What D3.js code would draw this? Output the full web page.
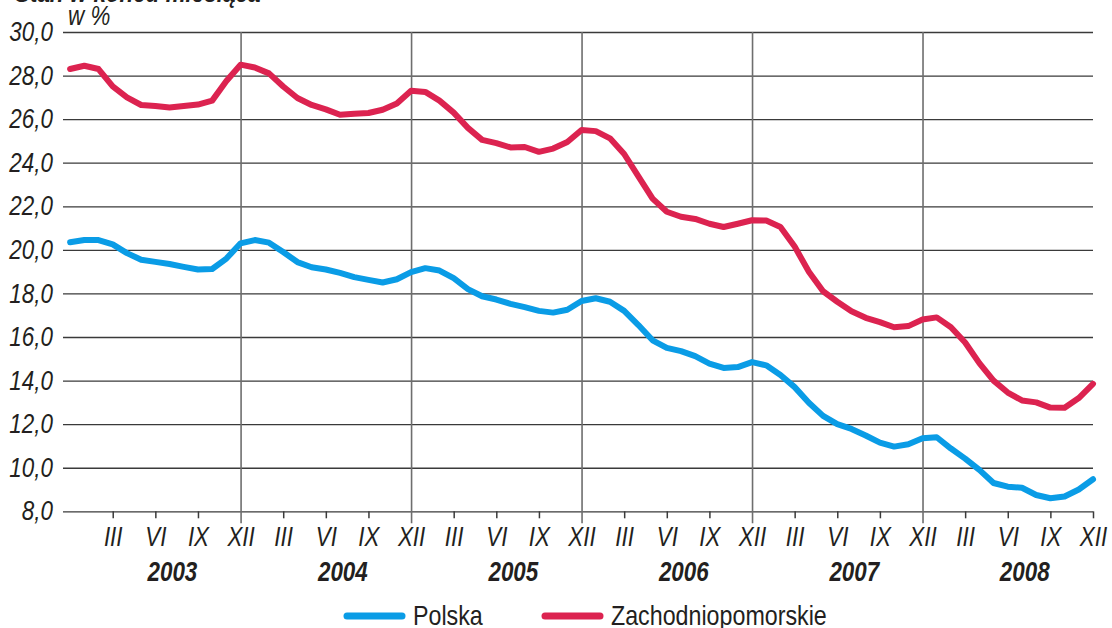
<!DOCTYPE html>
<html>
<head>
<meta charset="utf-8">
<script src="https://cdn.jsdelivr.net/npm/d3@7"></script>
<style>
    body { margin: 0; background: #fff; }
    svg { display: block; font-family: "Liberation Sans Narrow", "Arial Narrow", "Liberation Sans", sans-serif; }
</style>
</head>
<body>
<div id="showBox"></div>
<script>
// index 0 = XII 2002, index 72 = XII 2008
const polska = [
    20.35,
    20.45, 20.45, 20.25, 19.85, 19.55, 19.45, 19.35, 19.22, 19.1, 19.12, 19.6, 20.3,
    20.45, 20.33, 19.9, 19.44, 19.2, 19.1, 18.94, 18.75, 18.62, 18.5, 18.65, 18.98,
    19.16, 19.05, 18.7, 18.2, 17.87, 17.72, 17.52, 17.37, 17.2, 17.12, 17.25, 17.65,
    17.78, 17.62, 17.2, 16.55, 15.85, 15.5, 15.35, 15.12, 14.78, 14.58, 14.62, 14.85,
    14.7, 14.26, 13.7, 12.98, 12.38, 12.0, 11.78, 11.48, 11.15, 10.97, 11.08, 11.35,
    11.4, 10.88, 10.42, 9.9, 9.3, 9.13, 9.08, 8.75, 8.6, 8.68, 9.0, 9.47
];
const zachodniopomorskie = [
    28.3,
    28.45, 28.3, 27.5, 27.0, 26.65, 26.6, 26.53, 26.6, 26.67, 26.85, 27.75, 28.5,
    28.37, 28.1, 27.5, 26.97, 26.65, 26.45, 26.2, 26.25, 26.28, 26.43, 26.72, 27.3,
    27.25, 26.85, 26.3, 25.6, 25.05, 24.9, 24.7, 24.72, 24.5, 24.65, 24.95, 25.5,
    25.45, 25.12, 24.4, 23.37, 22.35, 21.75, 21.52, 21.42, 21.2, 21.05, 21.2, 21.36,
    21.35, 21.05, 20.15, 19.0, 18.1, 17.62, 17.18, 16.88, 16.68, 16.45, 16.5, 16.8,
    16.9, 16.45, 15.75, 14.8, 14.0, 13.45, 13.09, 13.0, 12.76, 12.75, 13.2, 13.85
];
const years = [2003, 2004, 2005, 2006, 2007, 2008];
const monthLabels = {3: "III", 6: "VI", 9: "IX", 0: "XII"};
const yTicks = [8, 10, 12, 14, 16, 18, 20, 22, 24, 26, 28, 30];
const seriesNames = ["Polska", "Zachodniopomorskie"];
const colors = ["#0a9ce6", "#dc2350"];

const width = 1112, height = 628;
const m = {left: 63, right: 1093, top: 32, bottom: 511.3};

const svg = d3.select("#showBox").append("svg")
    .attr("width", width)
    .attr("height", height);

const x = d3.scaleLinear().domain([-0.5, 72]).range([m.left, m.right]);
const y = d3.scaleLinear().domain([8, 30]).range([m.bottom, m.top]);

const fmt = d => d3.format(".1f")(d).replace(".", ",");

// horizontal grid + y labels
const yAxis = svg.append("g")
    .attr("transform", `translate(${m.left},0)`)
    .call(d3.axisLeft(y).tickValues(yTicks).tickSize(-(m.right - m.left)).tickPadding(10).tickFormat(fmt));
yAxis.select(".domain").remove();
yAxis.selectAll("line").attr("stroke", "#3a3a3a").attr("stroke-width", 1.3);
yAxis.selectAll("text")
    .attr("font-size", 27)
    .attr("font-style", "italic")
    .attr("fill", "#231f20");

// month ticks
const monthTicks = d3.range(3, 73, 3);
const xAxis = svg.append("g")
    .attr("transform", `translate(0,${m.bottom})`)
    .call(d3.axisBottom(x).tickValues(monthTicks).tickSize(7).tickFormat(d => monthLabels[d % 12]));
xAxis.select(".domain").remove();
xAxis.selectAll("line")
    .attr("stroke", "#3a3a3a")
    .attr("stroke-width", 1.5)
    .filter(d => d % 12 === 0 && d < 72)
    .attr("y1", -(m.bottom - m.top))
    .attr("y2", 12)
    .attr("stroke", "#6e6e6e")
    .attr("stroke-width", 1.6);
xAxis.selectAll("text")
    .attr("y", 35)
    .attr("dy", 0)
    .attr("font-size", 27)
    .attr("font-style", "italic")
    .attr("fill", "#231f20");

// years
svg.append("g")
    .selectAll("text")
    .data(years)
    .join("text")
    .attr("x", (d, i) => x(12 * i + 7.2))
    .attr("y", 581)
    .attr("text-anchor", "middle")
    .attr("font-size", 27)
    .attr("font-weight", "bold")
    .attr("font-style", "italic")
    .attr("fill", "#231f20")
    .text(d => d);

// lines
const line = d3.line().x((d, i) => x(i)).y(d => y(d));
svg.append("g")
    .selectAll("path")
    .data([polska, zachodniopomorskie])
    .join("path")
    .attr("fill", "none")
    .attr("stroke", (d, i) => colors[i])
    .attr("stroke-width", 6)
    .attr("stroke-linejoin", "round")
    .attr("stroke-linecap", "round")
    .attr("d", line);

// titles
svg.append("text")
    .attr("x", 15).attr("y", 2)
    .attr("font-size", 27)
    .attr("font-weight", "bold")
    .attr("font-style", "italic")
    .attr("fill", "#231f20")
    .text("Stan w końcu miesiąca");
svg.append("text")
    .attr("x", 68).attr("y", 25)
    .attr("font-size", 27)
    .attr("font-style", "italic")
    .attr("fill", "#231f20")
    .text("w %");

// legend
const legendX = [347, 545];
const legend = svg.append("g")
    .selectAll("g")
    .data(seriesNames)
    .join("g")
    .attr("transform", (d, i) => `translate(${legendX[i]},616)`);
legend.append("line")
    .attr("x1", 0).attr("x2", 55)
    .attr("stroke", (d, i) => colors[i])
    .attr("stroke-width", 7)
    .attr("stroke-linecap", "round");
legend.append("text")
    .attr("x", 66)
    .attr("y", 9)
    .attr("font-size", 28)
    .attr("fill", "#231f20")
    .text(d => d);

// the original uses a narrow face; squeeze the regular one if no narrow font is there
const probe = svg.append("text").attr("font-size", 100).text("0000");
const narrow = probe.node().getComputedTextLength() < 200;
probe.remove();
if (!narrow) {
    svg.selectAll("text").each(function () {
        const w = this.getComputedTextLength();
        d3.select(this)
            .attr("textLength", w * 0.83)
            .attr("lengthAdjust", "spacingAndGlyphs");
    });
}
</script>
</body>
</html>
